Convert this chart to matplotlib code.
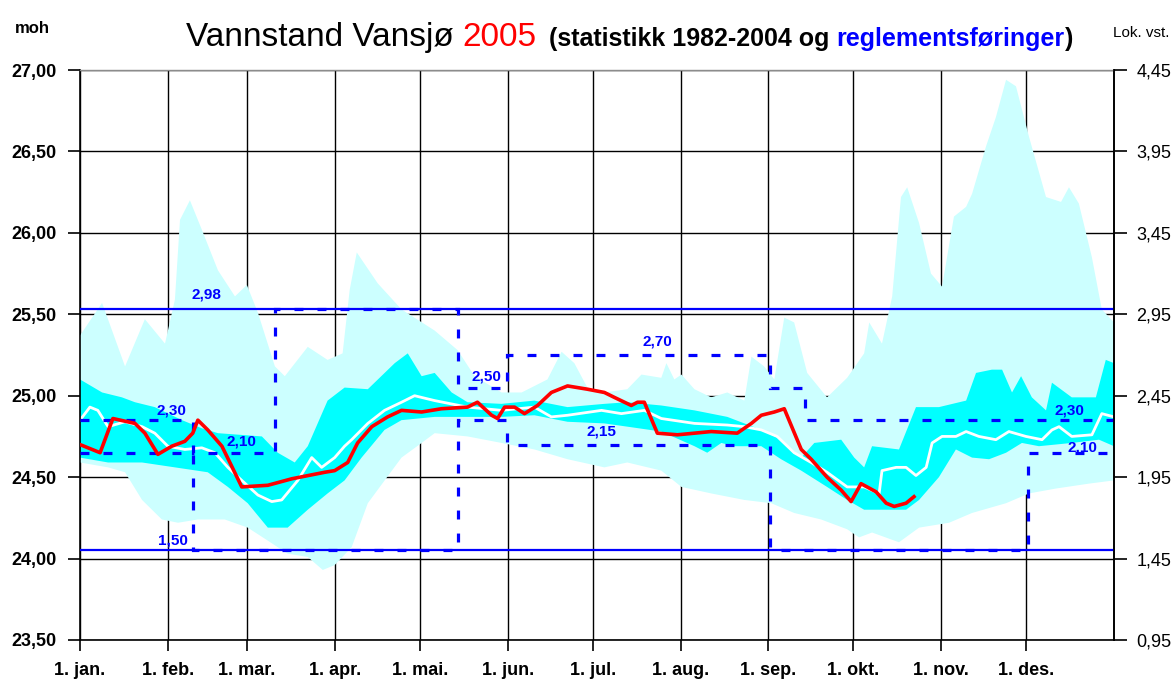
import numpy as np
import matplotlib
matplotlib.use("Agg")
import matplotlib.pyplot as plt
from matplotlib import font_manager

# ---------------- data (day of year, level in m.o.h.) ----------------
OFFSET = 22.55  # moh = local gauge + OFFSET

max_day = [0, 7.8, 15.9, 22.9, 30.0, 33.5, 35.3, 38.8, 43.0, 48.7, 54.7, 58.9, 62.8, 68.8, 72.3,
           80.4, 87.4, 92.7, 95.2, 97.7, 105.1, 113.5, 125.2, 133.3, 139.3, 148.8, 155.9, 165.0,
           170.0, 174.5, 179.1, 185.1, 193.2, 198.2, 205.2, 207.0, 209.8, 212.3, 216.9, 222.8,
           228.5, 234.5, 237.0, 241.5, 245.1, 248.6, 252.1, 256.7, 263.7, 270.8, 276.8, 278.6,
           283.1, 286.7, 289.8, 292.0, 296.2, 300.4, 304.3, 308.5, 312.8, 314.9, 319.8, 323.3,
           326.9, 330.4, 335.0, 341.0, 346.3, 349.1, 352.6, 357.2, 360.7, 365]
max_val = [25.37, 25.57, 25.18, 25.47, 25.32, 25.59, 26.08, 26.20, 26.02, 25.77, 25.61, 25.68,
           25.51, 25.18, 25.12, 25.30, 25.22, 25.26, 25.65, 25.88, 25.69, 25.53, 25.40, 25.28,
           25.12, 25.02, 25.02, 25.10, 25.27, 25.20, 25.05, 25.02, 25.04, 25.13, 25.11, 25.20,
           25.10, 25.13, 25.04, 24.99, 25.02, 24.97, 25.24, 25.18, 25.10, 25.48, 25.45, 25.14,
           24.99, 25.11, 25.26, 25.45, 25.32, 25.61, 26.22, 26.28, 26.06, 25.75, 25.67, 26.10,
           26.16, 26.24, 26.53, 26.71, 26.94, 26.90, 26.59, 26.22, 26.19, 26.28, 26.18, 25.85,
           25.53, 25.45]

min_day = [0, 9.9, 15.9, 21.9, 28.9, 34.6, 41.6, 51.1, 59.2, 66.3, 73.3, 80.4, 85.7, 89.9, 95.9,
           101.6, 113.5, 120.6, 125.2, 136.8, 148.8, 160.4, 172.1, 185.1, 193.2, 205.2, 212.3,
           222.8, 234.5, 244.0, 252.1, 261.6, 270.8, 275.0, 279.6, 289.1, 296.2, 306.8, 314.9,
           326.9, 335.0, 344.5, 356.1, 365]
min_val = [24.59, 24.56, 24.53, 24.36, 24.24, 24.22, 24.24, 24.24, 24.19, 24.11, 24.03, 24.01,
           23.93, 23.96, 24.07, 24.34, 24.62, 24.71, 24.77, 24.75, 24.71, 24.67, 24.61, 24.56,
           24.59, 24.54, 24.44, 24.40, 24.36, 24.34, 24.28, 24.24, 24.18, 24.13, 24.16, 24.10,
           24.19, 24.22, 24.28, 24.34, 24.40, 24.43, 24.46, 24.48]

upper_day = [0, 7.8, 14.8, 19.4, 26.4, 36.0, 43.0, 48.7, 64.2, 69.8, 75.8, 80.4, 87.4, 93.4,
             101.6, 111.1, 115.7, 120.6, 125.2, 131.2, 136.8, 148.8, 160.4, 172.1, 185.1, 193.2,
             205.2, 216.9, 228.5, 240.5, 247.5, 254.6, 259.2, 268.7, 273.3, 276.8, 279.6, 289.1,
             295.1, 303.2, 312.8, 316.3, 321.9, 325.5, 329.0, 332.2, 336.0, 341.0, 343.1, 350.1,
             358.6, 362.1, 365]
upper_val = [25.10, 25.02, 24.99, 24.96, 24.93, 24.85, 24.80, 24.77, 24.75, 24.65, 24.59, 24.69,
             24.97, 25.05, 25.04, 25.20, 25.26, 25.12, 25.14, 25.02, 24.96, 24.95, 24.97, 24.93,
             24.95, 24.96, 24.94, 24.91, 24.87, 24.79, 24.73, 24.62, 24.71, 24.73, 24.62, 24.56,
             24.69, 24.67, 24.93, 24.93, 24.97, 25.14, 25.16, 25.16, 25.02, 25.12, 24.99, 24.91,
             25.08, 24.99, 24.99, 25.22, 25.20]

lower_day = [0, 9.9, 21.9, 33.5, 45.1, 52.2, 59.2, 66.3, 73.3, 80.4, 87.4, 93.4, 99.4, 107.5,
             113.5, 125.2, 136.8, 148.8, 160.4, 172.1, 185.1, 193.2, 205.2, 216.9, 221.4, 226.4,
             230.9, 240.5, 247.5, 254.6, 263.7, 270.8, 276.8, 282.1, 291.6, 296.2, 303.2, 309.2,
             314.9, 320.9, 326.9, 332.5, 338.5, 350.1, 359.7, 365]
lower_val = [24.62, 24.59, 24.59, 24.56, 24.53, 24.44, 24.34, 24.19, 24.19, 24.30, 24.40, 24.48,
             24.62, 24.79, 24.85, 24.87, 24.87, 24.87, 24.88, 24.84, 24.83, 24.81, 24.78, 24.69,
             24.65, 24.71, 24.69, 24.69, 24.61, 24.54, 24.44, 24.36, 24.30, 24.30, 24.30, 24.36,
             24.50, 24.67, 24.62, 24.61, 24.65, 24.71, 24.69, 24.71, 24.73, 24.69]

mean_day = [0, 3.5, 6.3, 9.9, 15.9, 21.9, 26.4, 31.0, 37.0, 43.0, 47.6, 52.2, 57.1, 62.8, 67.7,
            71.2, 76.9, 81.8, 85.3, 89.9, 93.4, 95.9, 101.6, 107.5, 113.5, 118.1, 125.2, 136.8,
            148.8, 160.4, 166.4, 172.1, 184.1, 191.1, 199.2, 205.2, 216.9, 228.5, 234.5, 240.5,
            246.1, 252.1, 258.1, 263.7, 270.8, 276.8, 282.1, 283.1, 288.1, 291.6, 295.1, 298.7,
            300.8, 304.3, 309.2, 312.8, 317.3, 323.3, 327.9, 333.9, 339.6, 343.1, 345.6, 350.1,
            357.2, 360.7, 365]
mean_val = [24.85, 24.93, 24.91, 24.81, 24.84, 24.81, 24.77, 24.69, 24.67, 24.68, 24.65, 24.56,
            24.48, 24.39, 24.35, 24.36, 24.48, 24.62, 24.56, 24.62, 24.69, 24.73, 24.83, 24.91,
            24.96, 25.00, 24.97, 24.93, 24.91, 24.93, 24.87, 24.88, 24.91, 24.89, 24.91, 24.86,
            24.83, 24.82, 24.81, 24.79, 24.75, 24.65, 24.59, 24.53, 24.44, 24.44, 24.40, 24.54,
            24.56, 24.56, 24.51, 24.56, 24.71, 24.75, 24.75, 24.78, 24.75, 24.73, 24.78, 24.75,
            24.73, 24.79, 24.81, 24.75, 24.76, 24.89, 24.87]

y2005_day = [0, 7.1, 11.6, 19.4, 22.9, 27.5, 32.4, 37.0, 39.8, 41.6, 45.1, 50.1, 57.1, 66.3, 74.8,
             86.4, 89.9, 94.5, 98.0, 103.0, 108.6, 113.5, 120.6, 127.6, 136.8, 140.3, 145.3, 147.4,
             149.9, 153.4, 156.9, 161.5, 166.4, 172.1, 179.1, 185.1, 188.6, 194.6, 196.8, 199.2,
             203.8, 210.9, 216.9, 222.8, 232.0, 237.0, 240.5, 245.1, 248.6, 254.6, 258.1, 263.7,
             268.7, 272.2, 275.7, 281.0, 284.6, 287.4, 291.6, 294.4]
y2005_val = [24.70, 24.65, 24.86, 24.83, 24.77, 24.64, 24.69, 24.72, 24.77, 24.85, 24.79, 24.69,
             24.44, 24.45, 24.49, 24.53, 24.54, 24.59, 24.71, 24.81, 24.87, 24.91, 24.90, 24.92,
             24.93, 24.96, 24.88, 24.86, 24.93, 24.93, 24.89, 24.94, 25.02, 25.06, 25.04, 25.02,
             24.99, 24.94, 24.96, 24.96, 24.77, 24.76, 24.77, 24.78, 24.77, 24.83, 24.88, 24.90,
             24.92, 24.67, 24.61, 24.50, 24.42, 24.35, 24.46, 24.41, 24.34, 24.32, 24.34, 24.38]

# regulation curves (local gauge), step edges in day of year
reg_upper_edges = [0, 40, 68.7, 133.6, 150.8, 243.5, 256, 365]
reg_upper_vals = [2.30, 2.10, 2.98, 2.50, 2.70, 2.50, 2.30]
reg_lower_edges = [0, 40, 133.6, 150.8, 243.5, 334.5, 365]
reg_lower_vals = [2.10, 1.50, 2.30, 2.15, 1.50, 2.10]
reg_limits = [2.98, 1.50]

reg_label_text = ["2,98", "2,30", "2,10", "1,50", "2,50", "2,70", "2,15", "2,30", "2,10"]
reg_label_day = [44.8, 32.4, 57.1, 32.8, 143.5, 203.8, 184.0, 349.1, 353.7]
reg_label_val = [25.62, 24.91, 24.72, 24.11, 25.12, 25.33, 24.78, 24.91, 24.68]

month_days = [0, 31, 59, 90, 120, 151, 181, 212, 243, 273, 304, 334]
month_labels = ["1. jan.", "1. feb.", "1. mar.", "1. apr.", "1. mai.", "1. jun.", "1. jul.",
                "1. aug.", "1. sep.", "1. okt.", "1. nov.", "1. des."]
y_ticks = [23.5, 24.0, 24.5, 25.0, 25.5, 26.0, 26.5, 27.0]

# ---------------- styling ----------------
avail = {f.name for f in font_manager.fontManager.ttflist}
BASE = "Liberation Sans" if "Liberation Sans" in avail else "DejaVu Sans"
NARROW = "Liberation Sans Narrow" if "Liberation Sans Narrow" in avail else BASE
plt.rcParams["font.family"] = [BASE, "DejaVu Sans"]

LIGHT = "#CCFFFF"
CYAN = "#00FFFF"
BLUE = "#0000FF"
RED = "#FF0000"

W, H = 1174, 682
fig = plt.figure(figsize=(W / 100, H / 100), dpi=100)
ax = fig.add_axes([80 / W, 1 - 640 / H, 1034 / W, 570 / H])

# envelope (max/min) and inner band
ax.fill(np.concatenate([max_day, min_day[::-1]]), np.concatenate([max_val, min_val[::-1]]),
        color=LIGHT, lw=0, zorder=1)
ax.fill(np.concatenate([upper_day, lower_day[::-1]]), np.concatenate([upper_val, lower_val[::-1]]),
        color=CYAN, lw=0, zorder=1.5)
ax.plot(mean_day, mean_val, color="white", lw=2.0, zorder=2)

# regulation
for lim in reg_limits:
    ax.axhline(lim + OFFSET, color=BLUE, lw=1.6, zorder=3)
dash = (0, (2.8, 4.4))
ax.stairs(np.array(reg_upper_vals) + OFFSET, reg_upper_edges, color=BLUE, lw=2.3,
          linestyle=dash, baseline=None, zorder=3.5)
ax.stairs(np.array(reg_lower_vals) + OFFSET, reg_lower_edges, color=BLUE, lw=2.3,
          linestyle=dash, baseline=None, zorder=3.5)
for s, d, v in zip(reg_label_text, reg_label_day, reg_label_val):
    ax.text(d, v, s, color=BLUE, fontsize=11, fontweight="bold", ha="center", va="center",
            zorder=5)

# 2005
ax.plot(y2005_day, y2005_val, color=RED, lw=2.6, zorder=4, solid_joinstyle="round")

# axes
ax.set_xlim(0, 365)
ax.set_ylim(23.5, 27.0)
ax.set_yticks(y_ticks)
ax.set_yticklabels([f"{v:.2f}".replace(".", ",") for v in y_ticks], fontsize=13,
                   fontweight="bold")
ax.set_xticks(month_days)
ax.set_xticklabels(month_labels, fontsize=13, fontweight="bold")
ax.grid(True, color="black", lw=1.0)
ax.set_axisbelow(True)
ax.tick_params(axis="y", direction="out", length=9, width=1.2, pad=8)
ax.tick_params(axis="x", direction="out", length=8, width=1.2, pad=8)
for side in ["left", "right", "bottom"]:
    ax.spines[side].set_color("black")
    ax.spines[side].set_linewidth(1.2)
ax.spines["top"].set_color("#8c8c8c")
ax.spines["top"].set_linewidth(1.0)

ax2 = ax.twinx()
ax2.set_ylim(23.5 - OFFSET, 27.0 - OFFSET)
r_ticks = [round(v - OFFSET, 2) for v in y_ticks]
ax2.set_yticks(r_ticks)
ax2.set_yticklabels([f"{v:.2f}".replace(".", ",") for v in r_ticks], fontsize=13)
ax2.tick_params(axis="y", direction="out", length=9, width=1.2, pad=7)
for side in ["left", "top", "bottom"]:
    ax2.spines[side].set_visible(False)
ax2.spines["right"].set_linewidth(1.2)

# texts
fig.text(15 / W, 1 - 33 / H, "moh", fontsize=12, fontweight="bold", va="baseline", ha="left")
fig.text(1113 / W, 1 - 37 / H, "Lok. vst.", fontsize=11, va="baseline", ha="left")

fig.canvas.draw()
renderer = fig.canvas.get_renderer()
pieces = [
    ("Vannstand Vansjø", 24, "normal", "black", BASE, 0),
    ("2005", 24, "normal", RED, BASE, 9),
    ("(statistikk 1982-2004 og", 18, "bold", "black", NARROW, 12),
    ("reglementsføringer", 18, "bold", BLUE, NARROW, 7),
    (")", 18, "bold", "black", NARROW, 1),
]
x_px = 186
base_y = 1 - 46 / H
for txt, size, weight, col, fam, gap in pieces:
    x_px += gap
    t = fig.text(x_px / W, base_y, txt, fontsize=size, fontweight=weight, color=col,
                 family=[fam, "DejaVu Sans"], va="baseline", ha="left")
    bb = t.get_window_extent(renderer)
    x_px = bb.x1

fig.savefig("out.png", dpi=100)
